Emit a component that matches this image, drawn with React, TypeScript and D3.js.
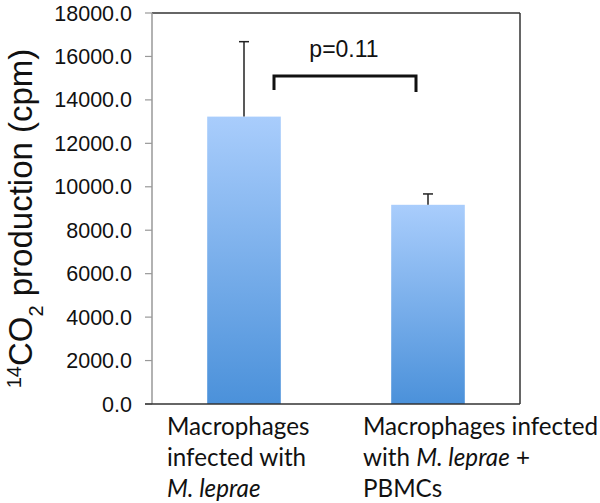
import React from "react";
import * as d3 from "d3";

const categories = ["Macrophages infected with M. leprae", "Macrophages infected with M. leprae + PBMCs"];
const means = [13230, 9170];
const errors = [3450, 500];
const yTicks = [0, 2000, 4000, 6000, 8000, 10000, 12000, 14000, 16000, 18000];
const pLabel = "p=0.11";

const W = 600, H = 503;
const M = { left: 152, right: 80, top: 13, bottom: 99 };

export default function App() {
  const x = d3.scaleBand<number>().domain([0, 1]).range([M.left, W - M.right]).paddingInner(0.6).paddingOuter(0.3);
  const y = d3.scaleLinear().domain([0, 18000]).range([H - M.bottom, M.top]);
  const bw = x.bandwidth();
  const cx = (i: number) => (x(i) as number) + bw / 2;
  const bracketY = y(15100);
  const labelFont = "Lato, 'Open Sans', sans-serif";
  const sans = "'Liberation Sans', Arial, sans-serif";
  return (
    <svg width={W} height={H} style={{ position: "absolute", left: 0, top: 0, background: "#fff" }}>
      <defs>
        <linearGradient id="barGrad" x1="0" y1="0" x2="0" y2="1">
          <stop offset="0%" stopColor="#a9cdfc" />
          <stop offset="100%" stopColor="#4b91da" />
        </linearGradient>
      </defs>
      <line x1={M.left} x2={W - M.right} y1={M.top} y2={M.top} stroke="#333" strokeWidth={1.5} />
      <line x1={W - M.right} x2={W - M.right} y1={M.top} y2={H - M.bottom} stroke="#333" strokeWidth={1.5} />
      {yTicks.map((t) => (
        <g key={t}>
          <line x1={M.left - 7} x2={M.left} y1={y(t)} y2={y(t)} stroke="#999" strokeWidth={1.2} />
          <text x={M.left - 20} y={y(t)} dy="0.35em" textAnchor="end" fontFamily={sans} fontSize={21.5} fill="#111">
            {t.toFixed(1)}
          </text>
        </g>
      ))}
      {means.map((m, i) => (
        <g key={i}>
          <rect x={x(i)} y={y(m)} width={bw} height={y(0) - y(m)} fill="url(#barGrad)" />
          <line x1={cx(i)} x2={cx(i)} y1={y(m)} y2={y(m + errors[i])} stroke="#222" strokeWidth={1.5} />
          <line x1={cx(i) - 5} x2={cx(i) + 5} y1={y(m + errors[i])} y2={y(m + errors[i])} stroke="#222" strokeWidth={1.5} />
        </g>
      ))}
      <line x1={M.left} x2={M.left} y1={M.top} y2={H - M.bottom} stroke="#999" strokeWidth={1.5} />
      <line x1={M.left - 7} x2={W - M.right} y1={y(0)} y2={y(0)} stroke="#333" strokeWidth={1.5} />
      <path
        d={`M${cx(0) + 30},${bracketY + 14} V${bracketY} H${cx(1) - 12} V${bracketY + 16}`}
        fill="none" stroke="#111" strokeWidth={3}
      />
      <text x={(cx(0) + cx(1)) / 2 + 8} y={bracketY - 19} textAnchor="middle" fontFamily={sans} fontSize={23} fill="#111">
        {pLabel}
      </text>
      <text transform={`translate(32,${(M.top + H - M.bottom) / 2 + 10}) rotate(-90)`} textAnchor="middle" fontFamily={sans} fontSize={33} fill="#111">
        <tspan baselineShift="super" fontSize={20}>14</tspan>
        <tspan>CO</tspan>
        <tspan baselineShift="sub" fontSize={20}>2</tspan>
        <tspan> production (cpm)</tspan>
      </text>
      <text fontFamily={labelFont} fontSize={24.2} fill="#111">
        <tspan x={167} y={435}>Macrophages</tspan>
        <tspan x={167} y={466}>infected with</tspan>
        <tspan x={167} y={497} fontStyle="italic">M. leprae</tspan>
      </text>
      <text fontFamily={labelFont} fontSize={24.2} fill="#111">
        <tspan x={363} y={435}>Macrophages infected</tspan>
        <tspan x={363} y={466}>with <tspan fontStyle="italic">M. leprae</tspan> +</tspan>
        <tspan x={363} y={497}>PBMCs</tspan>
      </text>
    </svg>
  );
}
